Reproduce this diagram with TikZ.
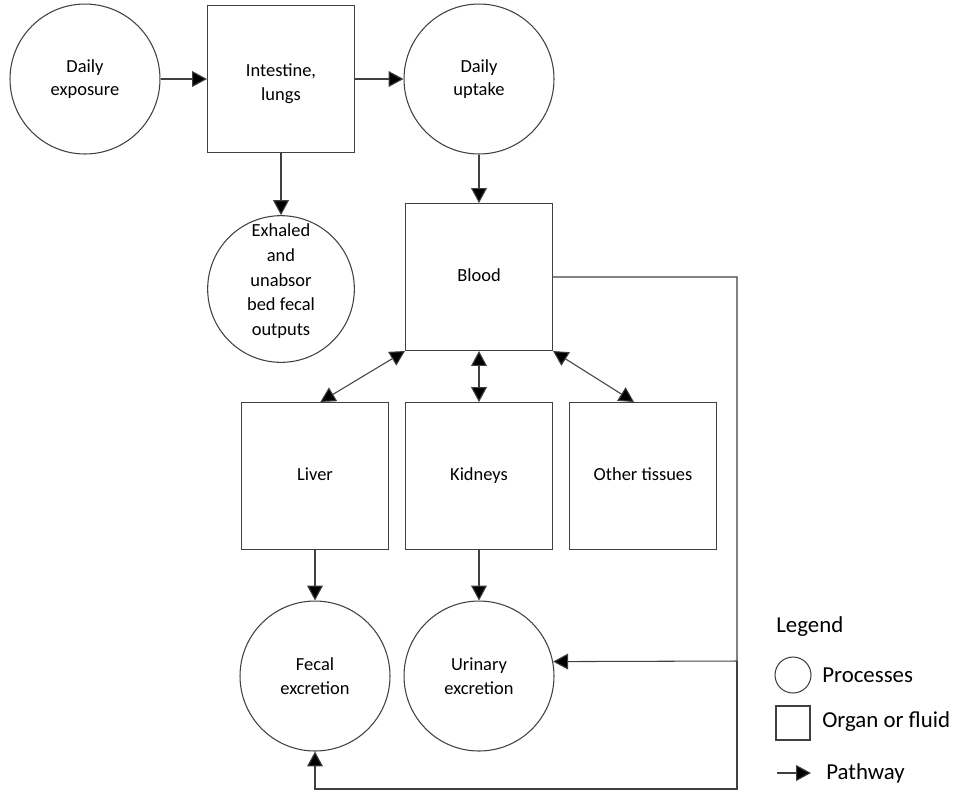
\documentclass[tikz,border=0pt]{standalone}
\usepackage{fontspec}
\setmainfont{Carlito}
\usetikzlibrary{arrows.meta}
\definecolor{Ink}{HTML}{404040}
\tikzset{
  process/.style={circle,draw=Ink,line width=.6pt,minimum size=3cm,inner sep=0pt,align=center,font=\fontsize{10.5}{13.5}\selectfont},
  organ/.style={rectangle,draw=Ink,line width=.6pt,minimum width=2.94cm,minimum height=2.94cm,inner sep=0pt,align=center,font=\fontsize{10.5}{13.5}\selectfont,execute at begin node=\strut},
  flow/.style={draw=Ink,line width=.6pt,-{Triangle[length=8.5pt,width=9pt,fill=black]}},
  twoway/.style={draw=Ink,line width=.6pt,{Triangle[length=8.5pt,width=9pt,fill=black]}-{Triangle[length=8.5pt,width=9pt,fill=black]}},
  keytext/.style={anchor=west,inner sep=0pt,font=\fontsize{13}{15}\selectfont}
}
\begin{document}
\begin{tikzpicture}[x=0.02cm,y=-0.02cm]
      \useasboundingbox (0,0) rectangle (976,796);
      \node[process] (expo) at (85,79) {Daily\\exposure};
      \node[organ] (intest) at (281,79) {\rule{0pt}{5.3mm}Intestine,\\lungs};
      \node[process] (uptake) at (479,79) {Daily\\uptake};
      \node[process,minimum size=2.88cm] (exhaled) at (281,289) {Exhaled\\[.6pt]and\\[.6pt]unabsor\\[.6pt]bed fecal\\[.6pt]outputs\\[-1mm]};
      \node[organ] (blood) at (479,277) {Blood};
      \node[organ] (liver) at (315,476) {Liver};
      \node[organ] (kidney) at (479,476) {Kidneys};
      \node[organ] (other) at (643,476) {Other tissues};
      \node[process] (fecal) at (315,676) {Fecal\\excretion};
      \node[process] (urine) at (479,676) {Urinary\\excretion};
      \coordinate (rail) at (737,661);
      \coordinate (base) at (737,789);
      \draw[flow] (expo) -- (intest);
      \draw[flow] (intest.east) -- (uptake.west);
      \draw[flow] (intest.south) -- (exhaled.north);
      \draw[flow] (uptake.south) -- (blood.north);
      \draw[twoway] (blood.south west) -- ([xshift=3pt]liver.north);
      \draw[twoway] (blood.south) -- (kidney.north);
      \draw[twoway] (blood.south east) -- ([xshift=-0.18cm]other.north);
      \draw[flow] (liver.south) -- (fecal.north);
      \draw[flow] (kidney.south) -- (urine.north);
      \draw[flow] (blood.east) -| (rail) -- (urine.11.5);
      \draw[flow] (rail) -- (base) -| (fecal.south);
      % legend
      \node[keytext] (legend) at (776,627) {Legend};
      \node[circle,draw=Ink,line width=.6pt,minimum size=0.72cm,inner sep=0pt] (keyproc) at (793,675) {};
      \node[keytext] (keyproctext) at (822,675) {Processes};
      \node[rectangle,draw=Ink,line width=.6pt,minimum size=0.68cm,inner sep=0pt] (keyorgan) at (793,723) {};
      \node[keytext] (keyorgantext) at (822,722) {Organ or fluid};
      \node[keytext] (keyflowtext) at (826,773) {Pathway};
      \coordinate (keyflow) at (777,773);
      \draw[flow] (keyflow) -- ([xshift=-0.3cm]keyflowtext.west);
    \end{tikzpicture}
\end{document}
